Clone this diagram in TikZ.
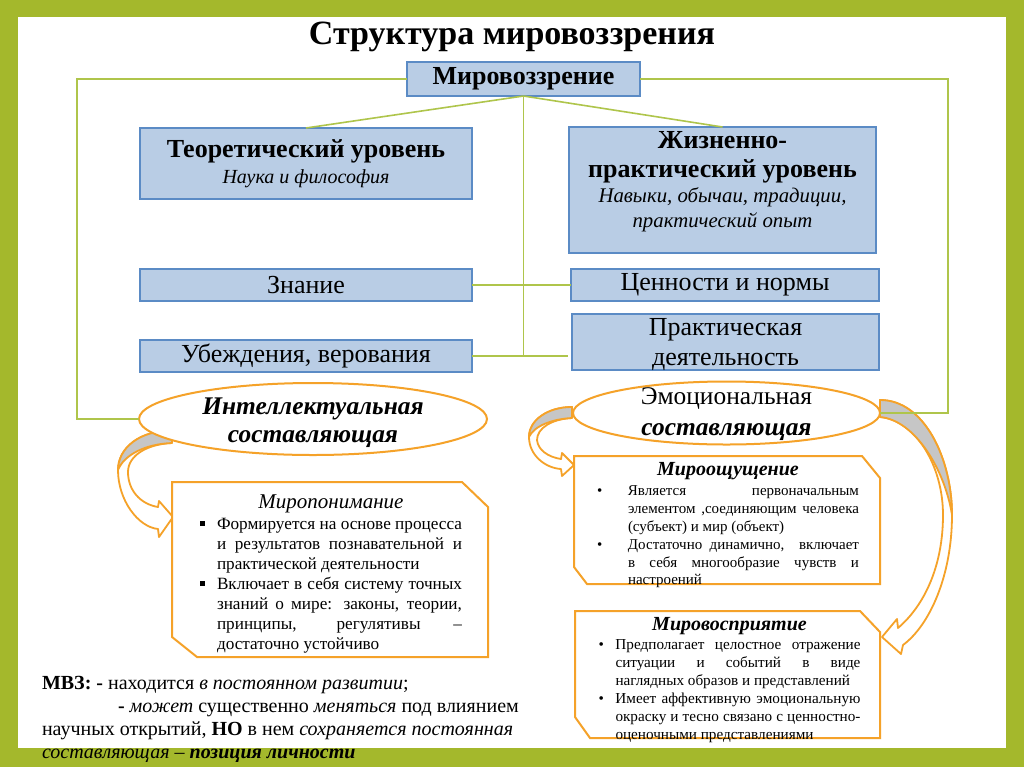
\documentclass[tikz,border=0pt]{standalone}
\usepackage{fontspec}
\setmainfont{Liberation Serif}
\usepackage{tikz}
\usetikzlibrary{positioning}
\usetikzlibrary{calc}
\usetikzlibrary{shapes.geometric}

\definecolor{slidegreen}{HTML}{A4B82C}
\definecolor{linkgreen}{HTML}{AFC54B}
\definecolor{boxblue}{HTML}{B9CDE5}
\definecolor{edgeblue}{HTML}{5B8BC5}
\definecolor{ribbon}{HTML}{F5A229}
\definecolor{backgray}{HTML}{C6C6C6}

\newcommand{\sqbul}{\par\hangindent=8.5pt\hangafter=1\noindent\makebox[8.5pt][l]{\rule[2pt]{2.6pt}{2.6pt}}}
\newcommand{\dotbul}[1]{\par\hangindent=#1\hangafter=1\noindent\makebox[#1][l]{\textbullet}}

\begin{document}
\begin{tikzpicture}[x=0.5pt,y=-0.5pt]
			\tikzstyle{every node}=[inner sep=0pt,outer sep=0pt]
			\tikzstyle{bluebox}=[draw=edgeblue,fill=boxblue,line width=0.7pt,align=center]
			\tikzstyle{oval}=[ellipse,draw=ribbon,fill=white,line width=1pt]
			\tikzstyle{link}=[draw=linkgreen,line width=0.8pt]
			\tikzstyle{cutbox}=[draw=ribbon,fill=white,line width=1pt]
			\tikzstyle{ribbonfront}=[draw=ribbon,fill=white,line width=0.9pt,line join=round]
			\tikzstyle{ribbonback}=[draw=ribbon,fill=backgray,line width=0.9pt,line join=round]
			\tikzstyle{headfont}=[font=\fontsize{13}{13.5}\selectfont\bfseries]
			\tikzstyle{plainfont}=[font=\fontsize{13}{15}\selectfont]

			% slide frame
			\fill[slidegreen] (0,0) rectangle (1024,767);
			\fill[white] (18,17) rectangle (1006,748);
			\useasboundingbox (0,0) rectangle (1024,767);

			\node (title) [anchor=base,font=\fontsize{17}{20}\selectfont\bfseries] at (512,44) {Структура мировоззрения};

			% blue boxes
			\node (mvz) [bluebox,headfont,minimum width=116.5pt,minimum height=17pt] at (523.5,79) {Мировоззрение};
			\node (teor) [bluebox,minimum width=166pt,minimum height=35.5pt,font=\fontsize{13}{13}\selectfont] at (306,163.5) {\textbf{Теоретический уровень}\\{\fontsize{10}{12}\selectfont\itshape Наука и философия}};
			\node (zhizn) [bluebox,minimum width=153.5pt,minimum height=63pt] at (722.5,190) {};
			\node (zhizntxt) [anchor=north,align=center,font=\fontsize{13}{12.5}\selectfont] at ([yshift=-2pt]zhizn.north) {\textbf{Жизненно-}\\[2pt]\textbf{практический уровень}\\{\fontsize{10.4}{12}\selectfont\itshape Навыки, обычаи, традиции,}\\{\fontsize{10.4}{12}\selectfont\itshape практический опыт}};
			\node (znan) [bluebox,plainfont,minimum width=166pt,minimum height=16pt] at (306,285) {Знание};
			\node (cenn) [bluebox,plainfont,minimum width=154pt,minimum height=16pt] at (725,285) {Ценности и нормы};
			\node (ubezh) [bluebox,plainfont,minimum width=166pt,minimum height=16pt] at (306,356) {Убеждения, верования};
			\node (prakt) [bluebox,plainfont,minimum width=153.5pt,minimum height=28pt,text depth=-1pt] at (725.5,342) {Практическая\\деятельность};

			% curved arrows
			\path[ribbonfront] (172,431) .. controls (140,430) and (118,448) .. (118,470) .. controls (118,500) and (138,527) .. (158,529) -- (159,537) -- (173,517) -- (159,501) -- (158,507) .. controls (140,504) and (128,490) .. (128,472) .. controls (128,455) and (148,444) .. (172,443) -- cycle;
			\path[ribbonback] (172,431) .. controls (140,430) and (118,448) .. (118,470) .. controls (124,455) and (145,444) .. (172,443) -- cycle;
			\path[ribbonfront] (572,407) .. controls (548,407) and (529,420) .. (529,437) .. controls (529,455) and (545,468) .. (561,469) -- (562,476) -- (574,465) -- (562,453) -- (561,459) .. controls (548,457) and (538,450) .. (537,440) .. controls (537,428) and (552,419) .. (572,418) -- cycle;
			\path[ribbonback] (572,407) .. controls (548,407) and (529,420) .. (529,437) .. controls (534,426) and (552,419) .. (572,418) -- cycle;
			\path[ribbonfront] (880,400) .. controls (925,400) and (952,460) .. (952,515) .. controls (952,575) and (930,625) .. (903,645) -- (901,654) -- (882,637) -- (897,619) -- (898,628) .. controls (925,605) and (943,565) .. (943,515) .. controls (943,465) and (915,420) .. (880,417) -- cycle;
			\path[ribbonback] (880,400) .. controls (925,400) and (952,460) .. (952,515) .. controls (945,470) and (915,420) .. (880,417) -- cycle;

			% components
			\node (intel) [oval,minimum width=174pt,minimum height=36pt] at (313,419) {};
			\node (inteltxt) [align=center,font=\fontsize{12.7}{14}\selectfont\bfseries\itshape] at (313,423) {Интеллектуальная\\составляющая};
			\node (emo) [oval,minimum width=153.5pt,minimum height=31.5pt] at (726.5,413) {};
			\node (emotxt) [align=center,font=\fontsize{12.7}{15.5}\selectfont] at (726.5,414) {Эмоциональная\\\textbf{\textit{составляющая}}};

			% green links
			\draw[link] (mvz.west) -| ([xshift=-31pt]intel.west) -- (intel.west);
			\draw[link] (mvz.east) -| ([xshift=34pt]emo.east) -- (emo.east);
			\draw[link] (mvz.south) -- (teor.north);
			\draw[link] (mvz.south) -- (zhizn.north);
			\draw[link] (mvz.south) -- (mvz.south |- ubezh.east);
			\draw[link] (znan.east) -- (cenn.west);
			\draw[link] (ubezh.east) -- ([xshift=-2pt]ubezh.east -| prakt.west);

			% orange boxes
			\node (mpon) [minimum width=158pt,minimum height=87.5pt] at (330,569.5) {};
			\draw[cutbox] (mpon.north west) -- ([xshift=-13pt]mpon.north east) -- ([yshift=-12.5pt]mpon.north east) -- (mpon.south east) -- ([xshift=12.5pt]mpon.south west) -- ([yshift=10pt]mpon.south west) -- cycle;
			\node (mpontxt) [anchor=north,text width=131pt,align=justify,font=\fontsize{8.6}{10}\selectfont] at ([xshift=0.5pt,yshift=-6.5pt]mpon.north) {{\centering\fontsize{10.5}{12}\selectfont\itshape Миропонимание\par}\vspace{0.5pt}
				\sqbul Формируется на основе процесса\linebreak и результатов познавательной и\linebreak практической деятельности
				\sqbul Включает в себя систему точных\linebreak знаний о мире: законы, теории,\linebreak принципы, регулятивы --\linebreak достаточно устойчиво\par};

			\node (mosh) [minimum width=153pt,minimum height=64pt] at (727,520) {};
			\draw[cutbox] (mosh.north west) -- ([xshift=-9pt]mosh.north east) -- ([yshift=-11pt]mosh.north east) -- (mosh.south east) -- ([xshift=6.5pt]mosh.south west) -- ([yshift=8.5pt]mosh.south west) -- cycle;
			\node (moshtxt) [anchor=north,text width=131pt,align=justify,font=\fontsize{7.5}{8.9}\selectfont] at ([xshift=0.5pt,yshift=-3pt]mosh.north) {{\centering\fontsize{10}{12}\selectfont\bfseries\itshape Мироощущение\par}\vspace{1.5pt}
				\dotbul{15.5pt}Является первоначальным\linebreak элементом ,соединяющим человека\linebreak (субъект) и мир (объект)
				\dotbul{15.5pt}Достаточно динамично,\ \ включает\linebreak в себя многообразие чувств и\linebreak настроений\par};

			\node (mvos) [minimum width=152.5pt,minimum height=63.5pt] at (727.5,674.5) {};
			\draw[cutbox] (mvos.north west) -- ([xshift=-10pt]mvos.north east) -- ([yshift=-10.5pt]mvos.north east) -- (mvos.south east) -- ([xshift=7.5pt]mvos.south west) -- ([yshift=10.5pt]mvos.south west) -- cycle;
			\node (mvostxt) [anchor=north,text width=131pt,align=justify,font=\fontsize{7.6}{9}\selectfont] at ([xshift=1pt,yshift=-3pt]mvos.north) {{\centering\fontsize{10}{12}\selectfont\bfseries\itshape Мировосприятие\par}\vspace{0.5pt}
				\dotbul{8.5pt}Предполагает целостное отражение\linebreak ситуации и событий в виде\linebreak наглядных образов и представлений
				\dotbul{8.5pt}Имеет аффективную эмоциональную\linebreak окраску и тесно связано с ценностно-\linebreak оценочными представлениями\par};

			% note
			\node (note) [anchor=north west,align=left,font=\fontsize{10}{11.5}\selectfont] at (42,676) {\textbf{МВЗ: -} находится \textit{в постоянном развитии};\\\hspace*{38pt}\textbf{-} \textit{может} существенно \textit{меняться} под влиянием\\научных открытий, \textbf{НО} в нем \textit{сохраняется постоянная}\\\textit{составляющая -- \textbf{позиция личности}}};
\end{tikzpicture}
\end{document}
